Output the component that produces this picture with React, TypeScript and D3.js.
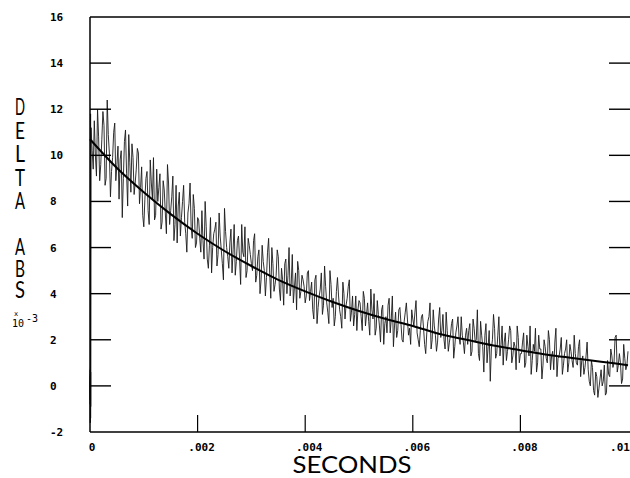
import React from 'react';
import * as d3 from 'd3';

// sample interval of the transient recorder (s)
const DT = 0.00004;

// samples recorded just before the flash (all squeezed at t ~ 0)
const preTrigger = [0.4, -0.6, 0.7, -0.8, 0.2, -1.6, 0.5, -0.3, 0.8, -0.5, 0.1, 11.8, -1.4, 0.6, -0.9, 0.3];

// delta abs (x10^-3) after the flash, one value every DT
const traceValues = [
  10.2, 11.5, 9.1, 10.8, 9.6, 11.9, 8.7, 12.4, 10.1, 9.3, 11.0, 8.9, 10.4, 9.8, 7.3, 10.6, 9.2, 10.9, 8.4, 9.9, 8.8, 10.3, 7.9, 9.5, 6.9,
  9.0, 7.6, 9.8, 8.1, 7.2, 9.4, 8.6, 6.8, 8.9, 7.5, 9.6, 7.0, 8.2, 6.3, 8.7, 7.8, 6.5, 8.0, 7.1, 5.8, 7.9, 6.9, 8.3, 6.0, 7.3,
  6.4, 7.6, 5.5, 6.9, 5.1, 7.3, 6.0, 6.8, 5.2, 7.5, 5.9, 4.6, 6.7, 5.6, 6.2, 4.9, 7.0, 5.4, 6.5, 4.4, 5.8, 6.9, 5.0, 6.1, 5.3,
  6.3, 4.5, 5.6, 4.0, 6.1, 5.0, 4.7, 6.4, 3.8, 5.3, 4.4, 5.9, 4.2, 5.1, 3.5, 5.5, 4.8, 3.9, 5.7, 4.3, 3.3, 5.0, 4.1, 4.6, 3.6,
  4.9, 3.7, 4.5, 2.9, 4.8, 3.4, 4.2, 3.1, 5.2, 3.6, 2.7, 4.4, 3.8, 3.0, 4.7, 3.3, 2.5, 4.0, 3.5, 4.3, 2.8, 3.9, 3.1, 2.4, 3.7,
  3.0, 4.1, 2.6, 3.6, 2.2, 3.3, 4.0, 2.5, 3.1, 1.9, 3.5, 2.7, 2.3, 3.8, 2.9, 1.7, 3.2, 2.4, 3.4, 2.0, 2.8, 3.6, 2.2, 1.8, 2.9,
  3.2, 2.3, 1.7, 3.0, 2.5, 1.4, 2.8, 3.6, 2.0, 2.6, 1.5, 2.9, 2.1, 3.1, 1.6, 2.4, 1.9, 2.7, 1.2, 2.3, 3.0, 1.8, 2.2, 1.4, 2.5,
  2.4, 1.3, 2.9, 1.9, 3.3, 1.1, 2.2, 0.6, 2.7, 1.7, 0.2, 2.0, 2.5, 1.4, 3.0, 1.8, 0.9, 2.3, 1.5, 2.6, 1.0, 1.9, 0.7, 2.1, 1.4,
  1.9, 0.8, 2.2, 1.3, 0.5, 1.8, 2.5, 1.0, 1.6, 0.3, 2.0, 1.2, 2.4, 0.7, 1.5, 1.9, 0.4, 1.3, 2.1, 0.9, 1.6, 0.6, 1.8, 1.1, 2.2,
  1.0, 1.7, 0.4, 1.3, 0.8, 1.9, 0.2, 1.1, -0.2, 0.6, -0.5, 0.3, 0.0, 0.9, -0.3, 0.5, 1.6, 0.8, 2.1, 0.6, 1.4, 0.1, 1.8, 0.7, 1.5,
];

// the samples taken half an interval earlier than each of the above
const traceValuesMid = [
  11.2, 9.4, 10.0, 12.0, 8.9, 10.7, 11.3, 9.0, 10.9, 8.2, 9.9, 11.4, 9.6, 8.1, 10.2, 9.0, 11.1, 7.8, 9.7, 10.5, 8.3, 9.4, 10.1, 8.6, 7.4,
  8.1, 9.3, 7.0, 8.8, 9.9, 7.4, 8.0, 9.2, 7.1, 8.5, 6.6, 8.8, 7.6, 9.1, 7.0, 6.2, 8.4, 7.3, 8.7, 6.6, 7.5, 8.8, 6.4, 7.7, 6.2,
  7.2, 5.8, 6.3, 8.0, 5.5, 6.1, 4.9, 6.6, 7.1, 5.7, 6.5, 5.3, 7.7, 6.0, 5.1, 6.8, 5.9, 4.8, 6.3, 5.5, 7.0, 5.6, 4.7, 6.4, 5.7,
  5.0, 6.6, 4.8, 5.9, 4.6, 5.4, 3.9, 5.8, 4.9, 6.0, 4.1, 4.8, 5.6, 3.7, 4.6, 5.3, 4.0, 6.0, 4.4, 3.6, 4.9, 5.4, 3.8, 4.8, 4.3,
  3.9, 5.0, 4.1, 3.3, 4.6, 2.7, 3.9, 4.9, 3.5, 4.3, 3.2, 5.0, 3.4, 2.6, 4.1, 3.9, 3.0, 4.5, 2.9, 3.8, 4.6, 3.2, 2.6, 3.9, 3.3,
  3.6, 2.4, 3.8, 3.1, 2.8, 4.2, 2.9, 2.2, 3.7, 2.6, 3.3, 1.8, 3.0, 3.5, 2.3, 3.9, 2.6, 2.1, 3.3, 2.7, 1.9, 3.2, 2.9, 2.5, 3.3,
  2.6, 3.7, 2.0, 2.4, 3.1, 1.8, 2.3, 3.0, 1.6, 3.3, 2.2, 1.9, 3.4, 2.4, 2.0, 3.2, 1.5, 2.2, 2.9, 1.7, 2.6, 2.1, 3.0, 1.9, 2.2,
  1.8, 2.7, 1.5, 2.5, 2.0, 1.4, 2.8, 1.7, 2.2, 1.0, 2.4, 1.6, 3.1, 1.2, 2.2, 1.3, 2.6, 1.9, 1.1, 2.0, 2.4, 1.3, 1.7, 2.6, 1.0,
  1.4, 2.3, 1.0, 1.7, 2.6, 1.1, 1.5, 0.6, 2.2, 1.6, 0.9, 1.7, 1.0, 2.0, 1.3, 0.7, 2.5, 1.2, 1.6, 0.5, 1.4, 2.0, 1.0, 1.5, 0.8,
  1.4, 0.9, 2.0, 1.1, 0.5, 1.3, 0.7, 0.0, 0.8, -0.4, 0.4, -0.1, 0.7, 0.2, -0.4, 1.1, 0.4, 1.3, 1.0, 2.2, 0.9, 1.0, 0.3, 1.2, 0.9,
];

// fitted decay curve, read at every 0.5 ms
const fitTimes = [0, 0.0005, 0.001, 0.0015, 0.002, 0.0025, 0.003, 0.0035, 0.004, 0.0045, 0.005,
  0.0055, 0.006, 0.0065, 0.007, 0.0075, 0.008, 0.0085, 0.009, 0.0095, 0.01];
const fitValues = [10.7, 9.45, 8.4, 7.45, 6.6, 5.85, 5.2, 4.6, 4.1, 3.65, 3.25,
  2.9, 2.6, 2.25, 2.0, 1.75, 1.55, 1.35, 1.2, 1.05, 0.9];

const yTicks = [-2, 0, 2, 4, 6, 8, 10, 12, 14, 16];
const xTicks = [0, 0.002, 0.004, 0.006, 0.008, 0.01];
const xTickLabels = ['0', '.002', '.004', '.006', '.008', '.01'];

const yLabelTop = ['D', 'E', 'L', 'T', 'A'];
const yLabelBottom = ['A', 'B', 'S'];

export default function App() {
  const width = 630;
  const height = 478;
  const left = 90, right = 628, top = 17, bottom = 432;

  const x = d3.scaleLinear().domain([0, 0.01]).range([left, right]);
  const y = d3.scaleLinear().domain([-2, 16]).range([bottom, top]);

  const samples: [number, number][] = [
    ...traceValues.map((v, i) => [DT * (i + 1), v] as [number, number]),
    ...traceValuesMid.map((v, i) => [DT * (i + 0.5), v] as [number, number]),
  ].sort((a, b) => a[0] - b[0]);
  const pts: [number, number][] = [
    ...preTrigger.map((v, i) => [0.000002 + i * 0.0000008, v] as [number, number]),
    ...samples,
  ];
  const traceLine = d3.line<[number, number]>().x(d => x(d[0])).y(d => y(d[1]));

  const fitPts = fitTimes.map((t, i) => [t, fitValues[i]] as [number, number]);
  const fitLine = d3.line<[number, number]>()
    .x(d => x(d[0])).y(d => y(d[1]))
    .curve(d3.curveMonotoneX);

  const tickFont = { fontFamily: '"DejaVu Sans Mono", monospace', fontWeight: 700, fontSize: 11 };
  const plotFont = { fontFamily: 'Lato, "DejaVu Sans", sans-serif', fontWeight: 400 };

  return (
    <svg width={width} height={height} style={{ position: 'absolute', left: 0, top: 0, background: '#fff' }}>
      {/* trace */}
      <path d={traceLine(pts) || ''} fill="none" stroke="#1a1a1a" strokeWidth={0.9} />
      {/* fit */}
      <path d={fitLine(fitPts) || ''} fill="none" stroke="#000" strokeWidth={2} />

      {/* frame */}
      <line x1={left} x2={left} y1={top} y2={bottom} stroke="#000" strokeWidth={1.5} />
      <line x1={left} x2={right + 2} y1={bottom} y2={bottom} stroke="#000" strokeWidth={1.5} />
      <line x1={left} x2={right + 2} y1={top} y2={top} stroke="#000" strokeWidth={1.5} />

      {yTicks.map(t => (
        <g key={'y' + t}>
          {t > -2 && t < 16 && (
            <>
              <line x1={left} x2={left + 21} y1={y(t)} y2={y(t)} stroke="#000" strokeWidth={1.4} />
              <line x1={right - 19} x2={right + 2} y1={y(t)} y2={y(t)} stroke="#000" strokeWidth={1.4} />
            </>
          )}
          <text x={50} y={y(t) + 4} style={tickFont}>{t}</text>
        </g>
      ))}

      {xTicks.map((t, i) => (
        <g key={'x' + t}>
          {i > 0 && i < xTicks.length - 1 && (
            <line x1={x(t)} x2={x(t)} y1={bottom} y2={bottom - 17} stroke="#000" strokeWidth={1.2} />
          )}
          <text x={x(t) + (i === 0 ? 2 : i === xTicks.length - 1 ? -8 : 4)} y={451} textAnchor="middle" style={tickFont}>
            {xTickLabels[i]}
          </text>
        </g>
      ))}

      <text x={352} y={473} textAnchor="middle" textLength={119} lengthAdjust="spacingAndGlyphs"
        style={{ ...plotFont, fontSize: 23 }}>SECONDS</text>

      {yLabelTop.map((c, i) => (
        <text key={'a' + i} x={15} y={115 + i * 23.5} textLength={10} lengthAdjust="spacingAndGlyphs"
          style={{ ...plotFont, fontSize: 24 }}>{c}</text>
      ))}
      {yLabelBottom.map((c, i) => (
        <text key={'b' + i} x={15} y={255 + i * 21.5} textLength={10} lengthAdjust="spacingAndGlyphs"
          style={{ ...plotFont, fontSize: 23 }}>{c}</text>
      ))}
      <text x={14} y={316} style={{ ...tickFont, fontWeight: 400, fontSize: 7 }}>x</text>
      <text x={12} y={327} style={{ ...tickFont, fontWeight: 400, fontSize: 10 }}>10</text>
      <text x={26} y={322} style={{ ...tickFont, fontWeight: 400, fontSize: 10 }}>-3</text>
    </svg>
  );
}
